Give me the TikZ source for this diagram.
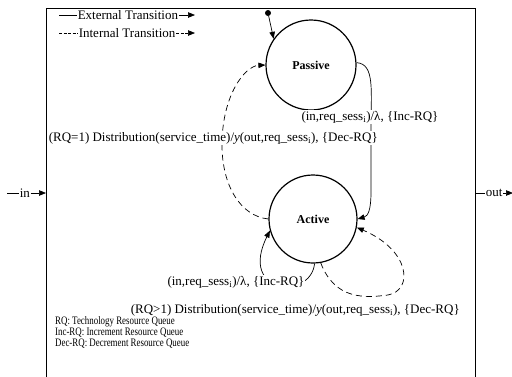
\documentclass[tikz,border=0pt]{standalone}
\usepackage{fontspec}
\setmainfont{Liberation Serif}
\usetikzlibrary{arrows.meta}
\begin{document}
\begin{tikzpicture}[x=1pt,y=-1pt,
  state/.style={circle,draw,line width=1.2pt,minimum size=88pt,inner sep=0pt,
                font=\fontsize{12}{14}\selectfont\bfseries},
  lbl/.style={font=\fontsize{13}{15}\selectfont,inner sep=0.6pt,fill=white},
  keytext/.style={font=\fontsize{13}{15}\selectfont,inner sep=0.6pt},
  note/.style={font=\fontsize{11.4}{11}\selectfont,align=left,anchor=north west,
               inner sep=0pt,xscale=0.78},
  tip/.style={-{Triangle[length=7pt,width=5.5pt]}},
  ext/.style={tip,line width=0.7pt},
  int/.style={tip,line width=0.7pt,dash pattern=on 6pt off 4pt},
]
\useasboundingbox (0,0) rectangle (512,376);

% model boundary (runs off the lower edge)
\node[draw,line width=0.8pt,minimum width=429pt,minimum height=390pt,
      anchor=north west,inner sep=0pt] (model) at (46,8) {};

% key for the line styles
\coordinate (extA) at (59,15);
\node[keytext,anchor=west] (extT) at (77,15) {External Transition};
\coordinate (extB) at (195,15);
\draw[line width=0.7pt] (extA) -- (extT.west);
\draw[ext] (extT.east) -- (extB);

\coordinate (intA) at (59,33);
\node[keytext,anchor=west] (intT) at (78,33) {Internal Transition};
\coordinate (intB) at (195,33);
\draw[line width=0.7pt,dash pattern=on 3pt off 1.5pt] (intA) -- (intT.west);
\draw[int,dash pattern=on 3pt off 1.5pt] (intT.east) -- (intB);

% ports
\coordinate (inA) at (7,193);
\node[keytext,anchor=west] (inT) at (19,193) {in};
\draw[line width=0.7pt] (inA) -- (inT.west);
\draw[ext] (inT.east) -- (inT -| model.west);

\node[keytext,anchor=west] (outT) at (485,193) {out};
\coordinate (outB) at (513,193);
\draw[line width=0.7pt] (outT -| model.east) -- (outT.west);
\draw[ext] (outT.east) -- (outB);

% states
\node[state,minimum size=90pt] (passive) at (311,65) {Passive};
\node[state] (active) at (313,219) {Active};

% initial state marker
\node[circle,fill,inner sep=0pt,minimum size=6pt] (init) at (268,13) {};
\draw[ext] (init) -- (passive.145);

% external transition Passive -> Active
\draw[ext] (passive.3) .. controls (375,64) and (371,90) .. (371,130)
  -- (371,192) .. controls (371,210) and (368,216) .. (active.0);

% internal transition Active -> Passive
\draw[int] (active.180) .. controls (240,216) and (222,185) .. (222,145)
  .. controls (222,95) and (245,66) .. (passive.180);

% external self transition on Active
\draw[ext] (active.-88) .. controls (311,300) and (238,295) .. (active.195);

% internal self transition on Active
\draw[int] (active.-80) .. controls (335,300) and (365,298) .. (388,295)
  .. controls (414,290) and (410,250) .. (active.-11);

% transition labels
\node[lbl] (lblA) at (370,117) {(in,req\_sess\textsubscript{i})/λ, \{Inc-RQ\}};
\node[lbl,anchor=west] (lblB) at (48,138)
  {(RQ=1) Distribution(service\_time)/\textit{y}(out,req\_sess\textsubscript{i}), \{Dec-RQ\}};
\node[lbl] (lblC) at (236,282) {(in,req\_sess\textsubscript{i})/λ, \{Inc-RQ\}};
\node[lbl,anchor=west] (lblD) at (130,310)
  {(RQ>1) Distribution(service\_time)/\textit{y}(out,req\_sess\textsubscript{i}), \{Dec-RQ\}};

% abbreviations
\node[note] (abbr) at (55,316) {RQ: Technology Resource Queue\\
  Inc-RQ: Increment Resource Queue\\
  Dec-RQ: Decrement Resource Queue};
\end{tikzpicture}
\end{document}
